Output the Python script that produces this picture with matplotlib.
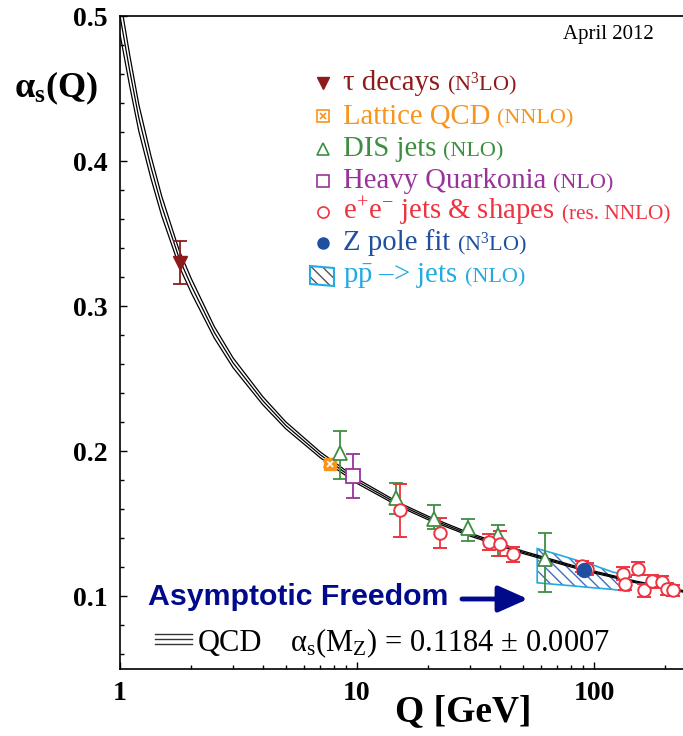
import numpy as np
import matplotlib.pyplot as plt
from matplotlib.patches import Polygon
from matplotlib.lines import Line2D

plt.rcParams['font.family'] = 'Liberation Serif'
plt.rcParams['mathtext.fontset'] = 'custom'
plt.rcParams['mathtext.rm'] = 'Liberation Serif'
plt.rcParams['mathtext.it'] = 'Liberation Serif:italic'
plt.rcParams['mathtext.bf'] = 'Liberation Serif:bold'
plt.rcParams['mathtext.default'] = 'rm'
plt.rcParams['hatch.linewidth'] = 1.0

# QCD running coupling: central value and the two band edges
q_curve = [1.0, 1.1, 1.2, 1.35, 1.5, 1.777, 2.0, 2.5, 3.0, 4.0, 5.0, 7.0,
           10.0, 15.0, 20.0, 30.0, 50.0, 91.2, 150.0, 240.0]
a_mid = [0.500, 0.462, 0.430, 0.396, 0.369, 0.333, 0.314, 0.282, 0.261, 0.235,
         0.218, 0.1976, 0.1795, 0.1634, 0.154, 0.1426, 0.1305, 0.1184, 0.110, 0.1034]
a_hi = [0.5125, 0.4727, 0.4392, 0.4038, 0.3758, 0.3385, 0.3189, 0.2860, 0.2644, 0.2378,
        0.2204, 0.1996, 0.1811, 0.1647, 0.1552, 0.1436, 0.13135, 0.1191, 0.1106, 0.10395]
a_lo = [0.4875, 0.4513, 0.4208, 0.3882, 0.3622, 0.3275, 0.3091, 0.2780, 0.2576, 0.2322,
        0.2156, 0.1956, 0.1779, 0.1621, 0.1528, 0.1416, 0.12965, 0.1177, 0.1094, 0.10285]

# tau decays
tau_q = [1.8]
tau_a = [0.330]
tau_err = [0.015]

# lattice QCD
lat_q = [7.7]
lat_a = [0.191]
lat_err = [0.002]

# DIS jets
dis_q = [8.5, 14.6, 21.1, 29.3, 39.5, 62.1]
dis_a = [0.199, 0.168, 0.1536, 0.1474, 0.1420, 0.1255]
dis_lo = [0.018, 0.0114, 0.0074, 0.0093, 0.0142, 0.0225]
dis_hi = [0.015, 0.0100, 0.0096, 0.0062, 0.0074, 0.0184]

# heavy quarkonia
hq_q = [9.65]
hq_a = [0.183]
hq_err = [0.015]

# e+e- jets & shapes
ee_q = [15.2, 22.5, 36.1, 40.1, 45.4, 89.0, 93.0, 132.4, 134.6, 153.8,
        162.9, 175.5, 194.6, 202.5, 214.9]
ee_a = [0.1595, 0.1439, 0.1375, 0.1359, 0.129, 0.1207, 0.1191, 0.1157, 0.1088, 0.1191,
        0.1041, 0.1103, 0.1099, 0.1053, 0.1041]
ee_lo = [0.0185, 0.0106, 0.0056, 0.008, 0.005, 0.004, 0.004, 0.0045, 0.0045, 0.0045,
         0.0045, 0.0045, 0.004, 0.004, 0.004]
ee_hi = [0.018, 0.010, 0.0053, 0.009, 0.005, 0.004, 0.004, 0.0045, 0.0045, 0.0045,
         0.0045, 0.0045, 0.004, 0.004, 0.004]

# Z pole fit
z_q = [91.2]
z_a = [0.1185]
z_err = [0.0027]

# p pbar -> jets band
pp_q = [57.6, 70.0, 85.0, 96.0, 120.0, 141.0]
pp_up = [0.1330, 0.1290, 0.1248, 0.1225, 0.1168, 0.1145]
pp_dn = [0.1094, 0.1082, 0.1070, 0.1062, 0.1048, 0.1035]

c_tau = '#8e1b1b'
c_lat = '#f7941d'
c_dis = '#3e8e41'
c_hq = '#993399'
c_ee = '#ef3340'
c_z = '#1f4f9f'
c_pp = '#22aae2'
c_hatch = '#3f6fbf'
navy = '#000a8a'

W, H = 683, 736
fig = plt.figure(figsize=(W / 100, H / 100), dpi=100)
ax = fig.add_axes([120 / W, 1 - 669 / H, 563 / W, 653 / H])


def fx(x):
    return x / W


def fy(y):
    return 1 - y / H


ax.set_xscale('log')
ax.set_xlim(1, 237.5)
ax.set_ylim(0.05, 0.5)

for a in (a_lo, a_mid, a_hi):
    ax.plot(q_curve, a, color='black', lw=0.9, zorder=2)

# Tevatron jets band
verts = list(zip(pp_q, pp_up)) + list(zip(pp_q[::-1], pp_dn[::-1]))
ax.add_patch(Polygon(verts, closed=True, facecolor='none', edgecolor=c_hatch,
                     hatch='\\\\\\', lw=0, zorder=1.5))
ax.add_patch(Polygon(verts, closed=True, facecolor='none', edgecolor=c_pp,
                     lw=1.2, zorder=1.6))

eb = dict(capsize=5, elinewidth=1.3, capthick=1.3, zorder=3)
ax.errorbar(tau_q, tau_a, yerr=tau_err, fmt='v', color=c_tau, ms=10, **eb)
ax.errorbar(lat_q, lat_a, yerr=lat_err, fmt='s', color=c_lat, ms=9, **eb)
ax.plot(lat_q, lat_a, 'x', color='white', ms=5, mew=1.2, zorder=4)
ax.errorbar(dis_q, dis_a, yerr=[dis_lo, dis_hi], fmt='^', color=c_dis, ms=10,
            mfc='white', mew=1.3, **eb)
ax.errorbar(hq_q, hq_a, yerr=hq_err, fmt='s', color=c_hq, ms=10,
            mfc='white', mew=1.3, **eb)
ax.errorbar(ee_q, ee_a, yerr=[ee_lo, ee_hi], fmt='o', color=c_ee, ms=9,
            mfc='white', mew=1.4, **eb)
ax.errorbar(z_q, z_a, yerr=z_err, fmt='o', color=c_z, ms=10, **eb)

# axes styling
ax.set_xticks([1, 10, 100])
ax.set_xticklabels(['1', '10', '100'])
ax.set_xticks([m * d for d in (1, 10, 100) for m in range(2, 10) if m * d < 237],
              minor=True)
ax.set_yticks([0.1, 0.2, 0.3, 0.4, 0.5])
ax.set_yticklabels(['0.1', '0.2', '0.3', '0.4', '0.5'])
ax.set_yticks(np.arange(0.06, 0.49, 0.02), minor=True)
ax.tick_params(which='both', direction='in', top=False, right=False, width=1)
ax.tick_params(which='major', length=5, pad=9, labelsize=20)
ax.tick_params(which='minor', length=3)
for lab in ax.get_xticklabels() + ax.get_yticklabels():
    lab.set_fontweight('bold')
ax.spines['right'].set_visible(False)
for s in ('left', 'top', 'bottom'):
    ax.spines[s].set_linewidth(1.2)

fig.text(fx(14), fy(88), r'α$_\mathbf{s}$(Q)', fontsize=26, fontweight='bold',
         ha='left', va='center')
fig.text(fx(463), fy(712), 'Q [GeV]', fontsize=27, fontweight='bold',
         ha='center', va='center')
fig.text(fx(608), fy(35), 'April 2012', fontsize=15, ha='center', va='center')

renderer = fig.canvas.get_renderer()


def text_run(x, y, pieces, gap=7):
    for s, size, color in pieces:
        t = fig.text(fx(x), fy(y), s, fontsize=size, color=color, va='baseline')
        x += t.get_window_extent(renderer).width + gap


# legend
mx, tx = 323, 343
big, small = 20.7, 16
rows = [
    (83, [('τ decays', big, c_tau), ('(N$^{3}$LO)', small, c_tau)]),
    (116, [('Lattice QCD', big, c_lat), ('(NNLO)', small, c_lat)]),
    (149, [('DIS jets', big, c_dis), ('(NLO)', small, c_dis)]),
    (181, [('Heavy Quarkonia', big, c_hq), ('(NLO)', small, c_hq)]),
    (212, [('e$^{+}$e$^{-}$ jets & shapes', big, c_ee), ('(res. NNLO)', 15.3, c_ee)]),
    (243, [('Z pole fit', big, c_z), ('(N$^{3}$LO)', small, c_z)]),
    (275, [(r'p$\bar{\mathrm{p}}$ –> jets', big, c_pp), ('(NLO)', small, c_pp)]),
]
for y, pieces in rows:
    text_run(tx, y + 7, pieces)

tf = fig.transFigure
leg = dict(transform=tf, clip_on=False, ls='none')
fig.add_artist(Line2D([fx(mx)], [fy(83)], marker='v', color=c_tau, ms=9, **leg))
fig.add_artist(Line2D([fx(mx)], [fy(116)], marker='s', mfc='none', mec=c_lat, ms=8, mew=1.2, **leg))
fig.add_artist(Line2D([fx(mx)], [fy(116)], marker='x', color=c_lat, ms=5, mew=1.2, **leg))
fig.add_artist(Line2D([fx(mx)], [fy(149)], marker='^', mfc='none', mec=c_dis, ms=8, mew=1.2, **leg))
fig.add_artist(Line2D([fx(mx)], [fy(181)], marker='s', mfc='none', mec=c_hq, ms=8, mew=1.2, **leg))
fig.add_artist(Line2D([fx(mx)], [fy(212)], marker='o', mfc='none', mec=c_ee, ms=8, mew=1.2, **leg))
fig.add_artist(Line2D([fx(mx)], [fy(243)], marker='o', color=c_z, ms=8, **leg))
icon = [(fx(310), fy(266)), (fx(334), fy(268)), (fx(334), fy(286)), (fx(310), fy(284))]
fig.add_artist(Polygon(icon, closed=True, transform=tf, facecolor='none',
                       edgecolor='#555555', hatch='\\\\\\', lw=0))
fig.add_artist(Polygon(icon, closed=True, transform=tf, facecolor='none',
                       edgecolor=c_pp, lw=1.5))

# asymptotic freedom
fig.text(fx(148), fy(597), 'Asymptotic Freedom', fontsize=21.8, fontweight='bold',
         family='Liberation Sans', color=navy, ha='left', va='center')
ax.annotate('', xy=(fx(528), fy(599)), xytext=(fx(462), fy(599)),
            xycoords='figure fraction', textcoords='figure fraction',
            arrowprops=dict(arrowstyle='-|>,head_length=0.9,head_width=0.4',
                            color=navy, lw=3.5, mutation_scale=20,
                            shrinkA=0, shrinkB=0))

# QCD band key
for y in (634, 639, 644):
    fig.add_artist(Line2D([fx(155), fx(192)], [fy(y), fy(y)], color='#333333',
                          lw=1.0, transform=tf))
fig.text(fx(198), fy(651), 'QCD', fontsize=22, va='baseline')
fig.text(fx(290), fy(651), r'α$_\mathrm{s}$(M$_\mathrm{Z}$) = 0.1184 ± 0.0007',
         fontsize=22, va='baseline')

fig.savefig('out.png', dpi=100)
